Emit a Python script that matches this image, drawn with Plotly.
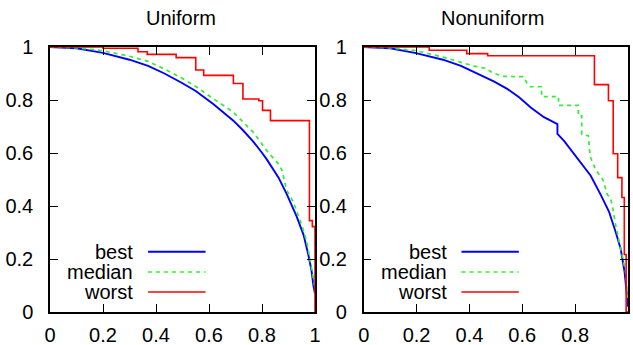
import plotly.graph_objects as go

# ---------------- data ----------------
panel_titles = ["Uniform", "Nonuniform"]
series_names = ["best", "median", "worst"]
tick_vals = [0, 0.2, 0.4, 0.6, 0.8, 1]
tick_text = ["0", "0.2", "0.4", "0.6", "0.8", "1"]

# Uniform panel
uni_best_x = [0, 0.1, 0.2, 0.3, 0.37, 0.43, 0.495, 0.55, 0.616, 0.692, 0.73, 0.767, 0.80, 0.818,
              0.862, 0.893, 0.931, 0.957, 0.975, 0.987, 0.994, 1.0]
uni_best_y = [1, 0.995, 0.978, 0.952, 0.929, 0.901, 0.866, 0.834, 0.785, 0.722, 0.684, 0.643, 0.601,
              0.576, 0.508, 0.446, 0.36, 0.29, 0.215, 0.155, 0.1, 0.07]
uni_med_x = [0, 0.1, 0.2, 0.3, 0.37, 0.43, 0.495, 0.55, 0.616, 0.692, 0.767, 0.818, 0.86, 0.875,
             0.893, 0.918, 0.95, 0.969, 0.987, 1.0]
uni_med_y = [1, 0.997, 0.986, 0.965, 0.946, 0.918, 0.884, 0.851, 0.805, 0.754, 0.678, 0.609, 0.561,
             0.536, 0.46, 0.416, 0.328, 0.265, 0.165, 0.09]
uni_worst_x = [0, 0.2, 0.332, 0.367, 0.476, 0.55, 0.58, 0.692, 0.728, 0.788, 0.802, 0.832, 0.979,
               0.99, 1.0]
uni_worst_y = [1, 0.995, 0.982, 0.972, 0.960, 0.913, 0.893, 0.862, 0.804, 0.797, 0.761, 0.722,
               0.345, 0.322, 0.0]

# Nonuniform panel
non_best_x = [0, 0.1, 0.198, 0.3, 0.368, 0.43, 0.494, 0.543, 0.588, 0.632, 0.682, 0.733, 0.733,
              0.758, 0.796, 0.827, 0.859, 0.897, 0.928, 0.953, 0.972, 0.987, 0.995, 1.0]
non_best_y = [1, 0.995, 0.977, 0.952, 0.929, 0.90, 0.869, 0.842, 0.81, 0.772, 0.735, 0.709, 0.672,
              0.646, 0.596, 0.558, 0.514, 0.442, 0.379, 0.303, 0.24, 0.152, 0.077, 0.02]
non_med_x = [0, 0.1, 0.198, 0.3, 0.368, 0.43, 0.459, 0.465, 0.478, 0.485, 0.53, 0.604, 0.62, 0.63,
             0.673, 0.673, 0.737, 0.737, 0.812, 0.812, 0.825, 0.825, 0.85, 0.857, 0.878, 0.897,
             0.906, 0.922, 0.932, 0.941, 0.953, 0.972, 0.991, 1.0]
non_med_y = [1, 0.997, 0.986, 0.962, 0.942, 0.925, 0.92, 0.913, 0.91, 0.903, 0.889, 0.888, 0.86,
             0.85, 0.85, 0.813, 0.813, 0.78, 0.78, 0.74, 0.74, 0.67, 0.665, 0.586, 0.536, 0.508,
             0.498, 0.442, 0.435, 0.40, 0.33, 0.24, 0.152, 0.05]
non_worst_x = [0, 0.248, 0.39, 0.469, 0.873, 0.926, 0.944, 0.961, 0.977, 0.986, 0.993, 1.0]
non_worst_y = [1, 0.988, 0.975, 0.967, 0.858, 0.797, 0.597, 0.507, 0.432, 0.217, 0.0, 0.0]

colors = {"best": "#0000ff", "median": "#33ee33", "worst": "#ff0000"}
FONT = "Liberation Sans, Arial, Helvetica, sans-serif"
FS = 20

fig = go.Figure()

panels = [
    ("x", "y", uni_best_x, uni_best_y, uni_med_x, uni_med_y, uni_worst_x, uni_worst_y),
    ("x2", "y2", non_best_x, non_best_y, non_med_x, non_med_y, non_worst_x, non_worst_y),
]
for xa, ya, bx, by, mx, my, wx, wy in panels:
    fig.add_trace(go.Scatter(x=bx, y=by, mode="lines", xaxis=xa, yaxis=ya, showlegend=False,
                             line=dict(color=colors["best"], width=1.9)))
    fig.add_trace(go.Scatter(x=mx, y=my, mode="lines", xaxis=xa, yaxis=ya, showlegend=False,
                             line=dict(color=colors["median"], width=1.7, dash="4px,4px")))
    fig.add_trace(go.Scatter(x=wx, y=wy, mode="lines", xaxis=xa, yaxis=ya, showlegend=False,
                             line=dict(color=colors["worst"], width=1.6, shape="hv")))

axis_common = dict(range=[0, 1], tickvals=tick_vals, ticktext=tick_text, ticks="inside",
                   ticklen=8, tickwidth=1.2, tickcolor="black", showline=True, linecolor="black",
                   linewidth=1.5, mirror="allticks", showgrid=False, zeroline=False,
                   automargin=False, tickfont=dict(family=FONT, size=FS, color="black"))

y_dom = [(345 - 312) / 345, (345 - 47) / 345]
fig.update_layout(
    width=633, height=345, margin=dict(l=0, r=0, t=0, b=0),
    paper_bgcolor="white", plot_bgcolor="white",
    xaxis=dict(domain=[50 / 633, 315 / 633], anchor="y", ticklabelstandoff=4, **axis_common),
    yaxis=dict(domain=y_dom, anchor="x", ticklabelstandoff=11, **axis_common),
    xaxis2=dict(domain=[363.7 / 633, 628 / 633], anchor="y2", ticklabelstandoff=4, **axis_common),
    yaxis2=dict(domain=y_dom, anchor="x2", ticklabelstandoff=11, **axis_common),
)

# titles
title_x = [181 / 633, 492 / 633]
for t, tx in zip(panel_titles, title_x):
    fig.add_annotation(text=t, x=tx, y=(345 - 18) / 345, xref="paper", yref="paper",
                       xanchor="center", yanchor="middle", showarrow=False,
                       font=dict(family=FONT, size=FS, color="black"))

# legends (text right-aligned, sample line to the right)
leg_y = [0.2275, 0.151, 0.0755]
dashes = {"best": "solid", "median": "4px,4px", "worst": "solid"}
widths = {"best": 1.9, "median": 1.7, "worst": 1.6}
for xa, ya in [("x", "y"), ("x2", "y2")]:
    for name, ly in zip(series_names, leg_y):
        fig.add_annotation(text=name, x=0.322, y=ly, xref=f"{xa} domain", yref=f"{ya} domain",
                           xanchor="right", yanchor="middle", showarrow=False,
                           font=dict(family=FONT, size=FS, color="black"))
        fig.add_shape(type="line", x0=0.37, x1=0.587, y0=ly, y1=ly,
                      xref=f"{xa} domain", yref=f"{ya} domain",
                      line=dict(color=colors[name], width=widths[name], dash=dashes[name]))

fig.write_html("out.html")
